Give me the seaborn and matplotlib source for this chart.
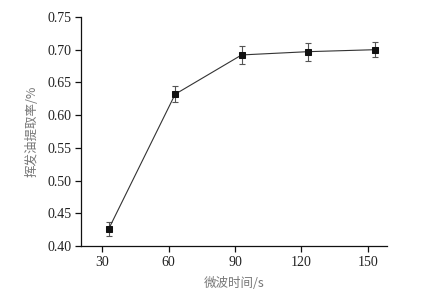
import matplotlib
matplotlib.use("Agg")
import matplotlib.pyplot as plt
import seaborn as sns
import pandas as pd

time_s = [33, 63, 93, 123, 153]
yield_pct = [0.426, 0.632, 0.692, 0.697, 0.700]
err = [0.011, 0.0125, 0.014, 0.014, 0.0115]
xticks = [30, 60, 90, 120, 150]
yticks = [0.40, 0.45, 0.50, 0.55, 0.60, 0.65, 0.70, 0.75]

sns.set_theme(style="ticks")
plt.rcParams['font.family'] = ['Liberation Serif', 'Noto Sans CJK SC']

df = pd.DataFrame({"t": time_s, "y": yield_pct})
fig = plt.figure(figsize=(4.34, 2.97), dpi=100)
ax = fig.add_axes([0.1866, 0.1717, 0.8917 - 0.1866, 0.9428 - 0.1717])

ax.errorbar(time_s, yield_pct, yerr=err, fmt="none", ecolor="#555555",
            elinewidth=0.8, capsize=2.5, capthick=0.8, zorder=2)
sns.lineplot(data=df, x="t", y="y", ax=ax, color="#333333", linewidth=0.8,
             marker="s", markersize=5, markeredgecolor="#111111",
             markerfacecolor="#111111", zorder=3)

ax.set_xlim(20.5, 158.6)
ax.set_ylim(0.40, 0.75)
ax.set_xticks(xticks)
ax.set_yticks(yticks)
ax.set_xticklabels([str(v) for v in xticks])
ax.set_yticklabels([f"{v:.2f}" for v in yticks])
for s in ["top", "right"]:
    ax.spines[s].set_visible(False)
for s in ["left", "bottom"]:
    ax.spines[s].set_linewidth(0.9)
    ax.spines[s].set_color("#111111")
ax.tick_params(direction="out", length=4, width=0.9, colors="#111111",
               labelsize=10, pad=3)
for lab in ax.get_xticklabels() + ax.get_yticklabels():
    lab.set_color("#222222")

ax.set_xlabel("微波时间/s", fontsize=9, color="#777777",
              family=['Noto Sans CJK SC', 'DejaVu Sans'], labelpad=6)
ax.set_ylabel("挥发油提取率/%", fontsize=9, color="#777777",
              family=['Noto Sans CJK SC', 'DejaVu Sans'], labelpad=6)

fig.savefig("out.png", dpi=100)
